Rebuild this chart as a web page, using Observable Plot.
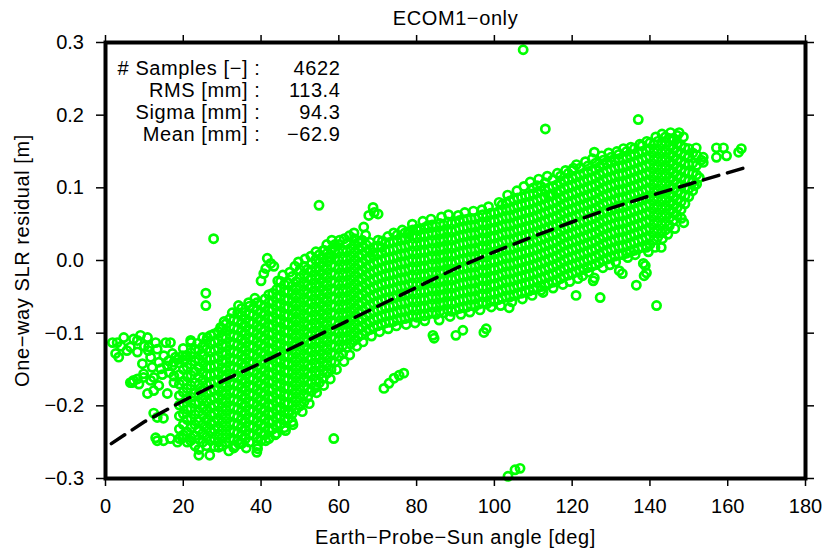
<!DOCTYPE html>
<html><head><meta charset="utf-8">
<script src="https://cdn.jsdelivr.net/npm/d3@7"></script>
<script src="https://cdn.jsdelivr.net/npm/@observablehq/plot@0.6"></script>
<style>
html,body{margin:0;padding:0;background:#fff;}
#chart{width:823px;height:553px;}
#chart svg g[aria-label="text"] text{letter-spacing:0.6px;}
</style></head><body><div id="chart"></div>
<script>
// ---- chart text ----
const titleText = "ECOM1\u2212only";
const xLabel = "Earth\u2212Probe\u2212Sun angle [deg]";
const yLabel = "One\u2212way SLR residual [m]";
const statLabels = ["# Samples [\u2212] :", "RMS [mm] :", "Sigma [mm] :", "Mean [mm] :"];
const statValues = ["4622", "113.4", "94.3", "\u221262.9"];
const xTicks = [0, 20, 40, 60, 80, 100, 120, 140, 160, 180];
const yTicks = [-0.3, -0.2, -0.1, 0.0, 0.1, 0.2, 0.3];

// ---- fitted trend (dashed) : angle [deg], residual [m] ----
const fitAngle = [1.5, 10, 20, 30, 40, 50, 60, 70, 80, 90, 100, 110, 120, 130, 140, 150, 164];
const fitResidual = [-0.252, -0.222, -0.193, -0.166, -0.141, -0.115, -0.089, -0.063, -0.037, -0.011, 0.012, 0.033, 0.053, 0.072, 0.089, 0.105, 0.127];

// ---- residual samples: [angle deg, residual mm ...] per angle column ----
const band1 = [
[19,-245,-232,-214,-199,-186,-170,-157,-141],
[20,-240,-226,-211,-197,-181,-166,-150,-137,-121],
[21,-250,-236,-219,-205,-190,-176,-160,-147,-131],
[22,-244,-230,-217,-203,-188,-172,-158,-143,-127,-113],
[23,-255,-241,-226,-212,-197,-183,-168,-153,-139,-122],
[24,-260,-246,-233,-221,-208,-195,-184,-171,-160,-147,-136,-123],
[25,-250,-238,-226,-213,-202,-190,-178,-165,-154,-141,-130,-118,-106],
[26,-255,-243,-231,-219,-207,-195,-183,-171,-158,-147,-135,-122,-110],
[27,-248,-236,-225,-213,-202,-191,-180,-169,-158,-147,-136,-125,-114,-103],
[28,-256,-245,-233,-222,-211,-200,-189,-178,-167,-156,-145,-134,-123,-112],
[29,-250,-239,-229,-218,-207,-197,-186,-175,-165,-154,-143,-132,-121,-110,-98],
[30,-255,-244,-234,-223,-212,-202,-191,-180,-170,-159,-148,-138,-127,-116,-105,-94],
[31,-250,-239,-228,-217,-206,-195,-184,-173,-162,-151,-140,-129,-118,-107,-96,-87],
[32,-245,-234,-223,-212,-201,-190,-179,-168,-157,-146,-135,-124,-113,-102,-91,-80],
[33,-258,-247,-236,-225,-214,-203,-192,-181,-170,-159,-148,-137,-126,-115,-104,-93,-82],
[34,-248,-237,-226,-215,-204,-193,-182,-171,-160,-149,-138,-127,-116,-105,-94,-83,-72],
[35,-252,-241,-230,-219,-208,-197,-186,-175,-164,-153,-142,-131,-120,-109,-98,-87,-76,-66],
[36,-245,-234,-223,-212,-201,-190,-179,-168,-157,-146,-135,-124,-113,-102,-91,-80,-71],
[37,-250,-239,-228,-217,-206,-195,-184,-173,-162,-151,-140,-129,-118,-107,-96,-85,-74,-63],
[38,-240,-229,-218,-207,-196,-185,-174,-163,-152,-141,-130,-119,-108,-97,-86,-75,-65],
[39,-255,-244,-233,-222,-211,-200,-189,-178,-167,-156,-145,-134,-123,-112,-101,-90,-79,-68,-58],
[40,-248,-237,-226,-215,-204,-193,-182,-171,-160,-149,-138,-127,-116,-105,-94,-83,-72,-61],
[41,-240,-229,-218,-207,-196,-185,-174,-163,-152,-141,-130,-119,-108,-97,-86,-75,-64,-53],
[42,-245,-234,-223,-212,-201,-190,-179,-168,-157,-146,-135,-124,-113,-102,-91,-80,-69,-58,-47],
[43,-232,-221,-210,-199,-188,-177,-166,-155,-144,-133,-122,-111,-100,-89,-78,-67,-56,-45],
[44,-238,-227,-216,-205,-194,-183,-172,-161,-150,-139,-128,-117,-106,-95,-84,-73,-62,-51,-40],
[45,-225,-214,-203,-192,-181,-170,-159,-148,-137,-126,-115,-104,-93,-82,-71,-60,-49,-38,-29]
];
const band2 = [
[46,-230,-219,-208,-197,-186,-175,-164,-153,-142,-131,-120,-109,-98,-87,-76,-65,-54,-43,-33],
[47,-218,-207,-196,-185,-174,-163,-152,-141,-130,-119,-108,-97,-86,-75,-64,-53,-42,-31],
[48,-222,-211,-200,-189,-178,-167,-156,-145,-134,-123,-112,-101,-90,-79,-68,-57,-46,-35,-22],
[49,-205,-194,-183,-172,-161,-150,-139,-128,-117,-106,-95,-84,-73,-62,-51,-40,-29],
[50,-200,-189,-178,-167,-156,-145,-134,-123,-112,-101,-90,-79,-68,-57,-46,-35,-24,-13],
[51,-195,-184,-173,-162,-151,-140,-129,-118,-107,-96,-85,-74,-63,-52,-41,-30,-19,-8],
[52,-188,-177,-166,-155,-144,-133,-122,-111,-100,-89,-78,-67,-56,-45,-34,-23,-12],
[53,-180,-169,-158,-147,-136,-125,-114,-103,-92,-81,-70,-59,-48,-37,-26,-15,-4],
[54,-175,-164,-153,-142,-131,-120,-109,-98,-87,-76,-65,-54,-43,-32,-21,-10,1],
[55,-168,-157,-146,-135,-124,-113,-102,-91,-80,-69,-58,-47,-36,-25,-14,-3,8],
[56,-162,-151,-140,-129,-118,-107,-96,-85,-74,-63,-52,-41,-30,-19,-8,3,14],
[57,-155,-144,-133,-122,-111,-100,-89,-78,-67,-56,-45,-34,-23,-12,-1,10],
[58,-150,-139,-128,-117,-106,-95,-84,-73,-62,-51,-40,-29,-18,-7,4,15],
[59,-140,-129,-118,-107,-96,-85,-74,-63,-52,-41,-30,-19,-8,3,14,22],
[60,-132,-121,-110,-99,-88,-77,-66,-55,-44,-33,-22,-11,0,11,22],
[61,-128,-117,-106,-95,-84,-73,-62,-51,-40,-29,-18,-7,4,15],
[62,-120,-109,-98,-87,-76,-65,-54,-43,-32,-21,-10,1,12,23],
[63,-115,-104,-93,-82,-71,-60,-49,-38,-27,-16,-5,6,17],
[64,-110,-99,-88,-77,-66,-55,-44,-33,-22,-11,0,11,22,30],
[65,-105,-94,-83,-72,-61,-50,-39,-28,-17,-6,5,16,25],
[66,-102,-91,-80,-69,-58,-47,-36,-25,-14,-3,8,19,28],
[67,-98,-87,-76,-65,-54,-43,-32,-21,-10,1,12,22],
[68,-95,-84,-73,-62,-51,-40,-29,-18,-7,4,15,25],
[69,-92,-81,-70,-59,-48,-37,-26,-15,-4,7,18],
[70,-90,-79,-68,-57,-46,-35,-24,-13,-2,9,20],
[71,-88,-77,-66,-55,-44,-33,-22,-11,0,11,18],
[72,-86,-75,-64,-53,-42,-31,-20,-9,2,13,24],
[73,-85,-74,-63,-52,-41,-30,-19,-8,3,14,25],
[74,-84,-73,-62,-51,-40,-29,-18,-7,4,15,26],
[75,-82,-71,-60,-49,-38,-27,-16,-5,6,17,28,35],
[76,-80,-69,-58,-47,-36,-25,-14,-3,8,19,30],
[77,-80,-69,-58,-47,-36,-25,-14,-3,8,19,30,38],
[78,-78,-67,-56,-45,-34,-23,-12,-1,10,21,32,40],
[79,-76,-65,-54,-43,-32,-21,-10,1,12,23,34,42],
[80,-78,-67,-56,-45,-34,-23,-12,-1,10,21,32,43]
];
const band3 = [
[81,-75,-64,-53,-42,-31,-20,-9,2,13,24,35,43],
[82,-76,-65,-54,-43,-32,-21,-10,1,12,23,34,45],
[83,-74,-63,-52,-41,-30,-19,-8,3,14,25,36,45],
[84,-72,-61,-50,-39,-28,-17,-6,5,16,27,38,49],
[85,-74,-63,-52,-41,-30,-19,-8,3,14,25,36,47],
[86,-70,-59,-48,-37,-26,-15,-4,7,18,29,40,51],
[87,-72,-61,-50,-39,-28,-17,-6,5,16,27,38,49],
[88,-68,-57,-46,-35,-24,-13,-2,9,20,31,42,53],
[89,-70,-59,-48,-37,-26,-15,-4,7,18,29,40,51],
[90,-68,-57,-46,-35,-24,-13,-2,9,20,31,42,53],
[91,-66,-55,-44,-33,-22,-11,0,11,22,33,44,55],
[92,-65,-54,-43,-32,-21,-10,1,12,23,34,45,56],
[93,-64,-53,-42,-31,-20,-9,2,13,24,35,46,57],
[94,-62,-51,-40,-29,-18,-7,4,15,26,37,48,58],
[95,-63,-52,-41,-30,-19,-8,3,14,25,36,47,58],
[96,-60,-49,-38,-27,-16,-5,6,17,28,39,50,60],
[97,-58,-47,-36,-25,-14,-3,8,19,30,41,52,63],
[98,-60,-49,-38,-27,-16,-5,6,17,28,39,50,61],
[99,-56,-45,-34,-23,-12,-1,10,21,32,43,54,65],
[100,-56,-45,-34,-23,-12,-1,10,21,32,43,54,65],
[101,-54,-43,-32,-21,-10,1,12,23,34,45,56,67],
[102,-52,-41,-30,-19,-8,3,14,25,36,47,58,69,77],
[103,-50,-39,-28,-17,-6,5,16,27,38,49,60,71,79],
[104,-50,-39,-28,-17,-6,5,16,27,38,49,60,71,82],
[105,-48,-37,-26,-15,-4,7,18,29,40,51,62,73,84],
[106,-46,-35,-24,-13,-2,9,20,31,42,53,64,75,86],
[107,-45,-34,-23,-12,-1,10,21,32,43,54,65,76,87],
[108,-43,-32,-21,-10,1,12,23,34,45,56,67,78,89],
[109,-42,-31,-20,-9,2,13,24,35,46,57,68,79,90],
[110,-40,-29,-18,-7,4,15,26,37,48,59,70,81,92,100],
[111,-38,-27,-16,-5,6,17,28,39,50,61,72,83,94,103],
[112,-36,-25,-14,-3,8,19,30,41,52,63,74,85,96],
[113,-34,-23,-12,-1,10,21,32,43,54,65,76,87,98,107],
[114,-32,-21,-10,1,12,23,34,45,56,67,78,89,100],
[115,-30,-19,-8,3,14,25,36,47,58,69,80,91,102,111]
];
const band4 = [
[116,-28,-17,-6,5,16,27,38,49,60,71,82,93,104],
[117,-25,-14,-3,8,19,30,41,52,63,74,85,96,107,116],
[118,-22,-11,0,11,22,33,44,55,66,77,88,99,110],
[119,-20,-9,2,13,24,35,46,57,68,79,90,101,112,120],
[120,-18,-7,4,15,26,37,48,59,70,81,92,103,114,124],
[121,-16,-5,6,17,28,39,50,61,72,83,94,105,116],
[122,-14,-3,8,19,30,41,52,63,74,85,96,107,118,127],
[123,-12,-1,10,21,32,43,54,65,76,87,98,109,120],
[124,-10,1,12,23,34,45,56,67,78,89,100,111,122,130],
[125,-8,3,14,25,36,47,58,69,80,91,102,113,124],
[126,-6,5,16,27,38,49,60,71,82,93,104,115,126,134],
[127,-3,8,19,30,41,52,63,74,85,96,107,118,129],
[128,0,11,22,33,44,55,66,77,88,99,110,121,132,138],
[129,2,13,24,35,46,57,68,79,90,101,112,123,134],
[130,4,15,26,37,48,59,70,81,92,103,114,125,136,142],
[131,6,17,28,39,50,61,72,83,94,105,116,127,138],
[132,8,19,30,41,52,63,74,85,96,107,118,129,140,146],
[133,8,19,30,41,52,63,74,85,96,107,118,129,140],
[134,10,21,32,43,54,65,76,87,98,109,120,131,142,150],
[135,12,23,34,45,56,67,78,89,100,111,122,133,144],
[136,14,25,36,47,58,69,80,91,102,113,124,135,146,154],
[137,16,27,38,49,60,71,82,93,104,115,126,137,148],
[138,18,29,40,51,62,73,84,95,106,117,128,139,150,158],
[139,20,31,42,53,64,75,86,97,108,119,130,141,152],
[140,22,33,44,55,66,77,88,99,110,121,132,143,154,162],
[141,28,39,50,61,72,83,94,105,116,127,138,149,160],
[142,32,43,54,65,76,87,98,109,120,131,142,153,164],
[143,38,49,60,71,82,93,104,115,126,137,148,159],
[144,42,53,64,75,86,97,108,119,130,141,152,163,170],
[145,48,59,70,81,92,103,114,125,136,147,158,168],
[146,55,66,77,88,99,110,121,132,143,154,165],
[147,62,73,84,95,106,117,128,139,150,161,172],
[148,70,81,92,103,114,125,136,147,158],
[149,78,89,100,111,122,133,144,155],
[150,88,99,110,121,132,143,154],
[151,96,108,120,134,148],
[152,105,118,131,145]
];
// ---- individual samples: [angle deg, residual mm] ----
const leftCluster = [
[1.8,-113],[3.0,-113],[2.6,-128],[3.4,-133],[4.7,-106],[4.0,-118],[5.5,-124],[6.4,-119],[6.9,-168],[6.4,-168],
[7.2,-108],[7.2,-165],[8.2,-110],[8.2,-126],[8.6,-170],[8.2,-163],[9.0,-103],[9.5,-142],[9.8,-156],[9.8,-161],
[10.0,-118],[10.8,-106],[11.0,-124],[11.1,-119],[11.6,-133],[11.6,-165],[12.0,-147],[12.4,-161],[12.4,-179],[12.9,-113],
[13.3,-122],[13.7,-140],[13.7,-172],[14.2,-149],[14.6,-157],[15.0,-131],[15.5,-113],[15.9,-145],[15.9,-183],[16.2,-138],
[16.4,-154],[16.7,-113],[17.2,-128],[17.2,-145],[17.6,-140],[17.6,-159],[17.6,-168],[18.0,-133],[18.6,-136],[10.8,-183],
[19.8,-131],[20.6,-131],[21.9,-110],[23.7,-114],[26.2,-106],[27.9,-101],[29.6,-92],
[12.4,-210],[13.3,-216],[14.9,-217],[12.9,-244],[13.3,-248],[14.9,-248],[16.7,-245],[18.5,-250],[19.8,-244],[21.9,-248],
[24.0,-268],[26.8,-268],[29.1,-257]
];
const upperEdge = [
[30.5,-84],[32.6,-72],[34.2,-62],[36.8,-58],[38.4,-52],[44.3,-28],[45.6,-20],[47.4,-16],[48.7,-8],[49.6,-2],
[51.3,2],[52.8,6],[54.1,12],[56.9,22],[58.2,28],[61.4,30],[62.7,34],[63.9,38],[66.9,35],[71.2,27],
[72.6,33],[74.1,38],[76.3,42],[78.9,50],[81.6,54],[83.7,57],[86.4,60],[88.2,63],[90.7,62],[92.4,66],
[94.6,68],[96.8,70],[98.5,74],[101.2,80],[103.4,90],[105.8,96],[107.6,102],[109.2,108],[111.4,112],[113.6,116],
[116.2,120],[118.3,124],[121.1,132],[123.4,136],[125.2,140],[127.6,144],[129.4,148],[131.5,150],[133.2,154],[135.1,156],
[137.4,160],[139.2,164],[141.5,170],[143.1,174],[145.3,176]
];
const lowerEdge = [
[31.7,-262],[33.4,-255],[36.2,-258],[38.9,-264],[43.6,-240],[46.3,-234],[48.2,-226],[50.6,-208],[52.4,-197],[54.3,-182],
[56.1,-172],[57.8,-163],[59.4,-150],[61.3,-139],[62.8,-130],[64.6,-118],[66.2,-112],[68.4,-104],[70.5,-98],[72.7,-94],
[74.8,-90],[77.3,-88],[79.6,-86],[82.1,-83],[85.8,-82],[88.6,-77],[91.4,-74],[93.7,-71],[96.3,-68],[99.2,-64],
[101.6,-62],[104.5,-57],[107.2,-53],[109.7,-48],[112.5,-44],[115.1,-38],[117.6,-33],[119.4,-29],[122.7,-21],[124.2,-16],
[127.9,-10],[129.7,-6],[131.2,-2],[134.3,4],[136.2,8],[139.6,12],[141.3,18],[143.2,30],[144.6,36],[146.4,44],
[148.1,58],[148.7,52]
];
const outliersHigh = [
[107.4,290],[113.1,181],[137.0,194],[125.7,149],[120.3,127],[112.0,102],[114.6,89],
[54.9,76],[68.8,73],[69.1,66],[70.1,64],[67.7,62],[66.4,46],[65.2,25],[70.1,28],[68.8,11],
[27.8,30],[25.8,-45],[25.8,-62],
[41.6,3],[42.5,-4],[43.3,-8],[41.2,-11],[40.7,-18],[40.0,-28],
[60.2,28],[58.6,18],[56.3,14],[57.5,4],[77.8,37],[80.4,41],[82.9,48]
];
const rightTail = [
[157.1,155],[158.9,155],[163.5,154],[162.8,149],[157.1,142],[159.7,144],[153.7,142],[153.7,135],
[151.9,155],[153.2,138],[152.7,114],[151.4,103],[149.9,142],[147.5,176],[146.0,168],[148.6,170]
];
const outliersLow = [
[121.0,-48],[127.2,-51],[125.4,-28],[103.8,-65],[91.9,-96],[97.9,-94],[97.3,-99],[84.2,-103],[84.5,-107],[90.1,-103],
[112.0,-41],[121.5,-25],[125.7,-24],[132.1,-14],[132.9,-18],[136.5,-34],[138.5,-21],[138.8,-7],[141.7,-62],
[138.3,-4],[139.1,-17],[142.9,18],[139.1,18],
[71.6,-176],[72.9,-169],[74.2,-162],[75.5,-158],[76.7,-155],
[58.7,-245],[39.1,-259],[41.2,-248],[34.3,-252],[47.1,-211],
[105.3,-288],[106.6,-286],[103.5,-297]
];

// ---- assemble ----
const samples = [];
for (const band of [band1, band2, band3, band4])
  for (const [angle, ...vals] of band)
    for (const v of vals) samples.push({angle, residual: v / 1000});
for (const list of [leftCluster, upperEdge, lowerEdge, outliersHigh, rightTail, outliersLow])
  for (const [angle, v] of list) samples.push({angle, residual: v / 1000});
const fit = fitAngle.map((a, i) => ({angle: a, residual: fitResidual[i]}));

const font = "'Liberation Sans', Arial, Helvetica, sans-serif";
const chart = Plot.plot({
  width: 823, height: 553,
  marginLeft: 105, marginRight: 18, marginTop: 42, marginBottom: 75,
  style: {fontFamily: font, fontSize: "20px", color: "#000", background: "#fff", overflow: "visible"},
  x: {domain: [0, 180]},
  y: {domain: [-0.3, 0.3]},
  marks: [
    Plot.dot(samples, {x: "angle", y: "residual", r: 4.1, stroke: "#00ff00", strokeWidth: 2.7, fill: "none"}),
    Plot.line(fit, {x: "angle", y: "residual", stroke: "#000", strokeWidth: 3.5, strokeDasharray: "16,9"}),
    Plot.axisX({anchor: "bottom", ticks: xTicks, tickSize: 8, tickPadding: 12, tickFormat: d => String(d), label: null, strokeWidth: 1.5}),
    Plot.axisX({anchor: "top", ticks: xTicks, tickSize: 8, tickFormat: () => "", label: null, strokeWidth: 1.5}),
    Plot.axisY({anchor: "left", ticks: yTicks, tickSize: 9, tickPadding: 12.5, tickFormat: d3.format(".1f"), label: null, strokeWidth: 1.5}),
    Plot.axisY({anchor: "right", ticks: yTicks, tickSize: 8, tickFormat: () => "", label: null, strokeWidth: 1.5}),
    Plot.frame({stroke: "#000", strokeWidth: 4}),
    Plot.text([titleText], {text: d => d, frameAnchor: "top", dy: -24.4, lineAnchor: "middle", fill: "#000"}),
    Plot.text([xLabel], {text: d => d, frameAnchor: "bottom", dy: 58.6, lineAnchor: "middle", fill: "#000"}),
    Plot.text([yLabel], {text: d => d, frameAnchor: "left", dx: -83.4, rotate: -90, textAnchor: "middle", lineAnchor: "middle", fill: "#000"}),
    Plot.text([statLabels.join("\n")], {text: d => d, frameAnchor: "top-left", dx: 155, dy: 17, textAnchor: "end", lineAnchor: "top", lineHeight: 1.1, fill: "#000"}),
    Plot.text([statValues.join("\n")], {text: d => d, frameAnchor: "top-left", dx: 235, dy: 17, textAnchor: "end", lineAnchor: "top", lineHeight: 1.1, fill: "#000"})
  ]
});
document.getElementById("chart").appendChild(chart);
</script></body></html>
